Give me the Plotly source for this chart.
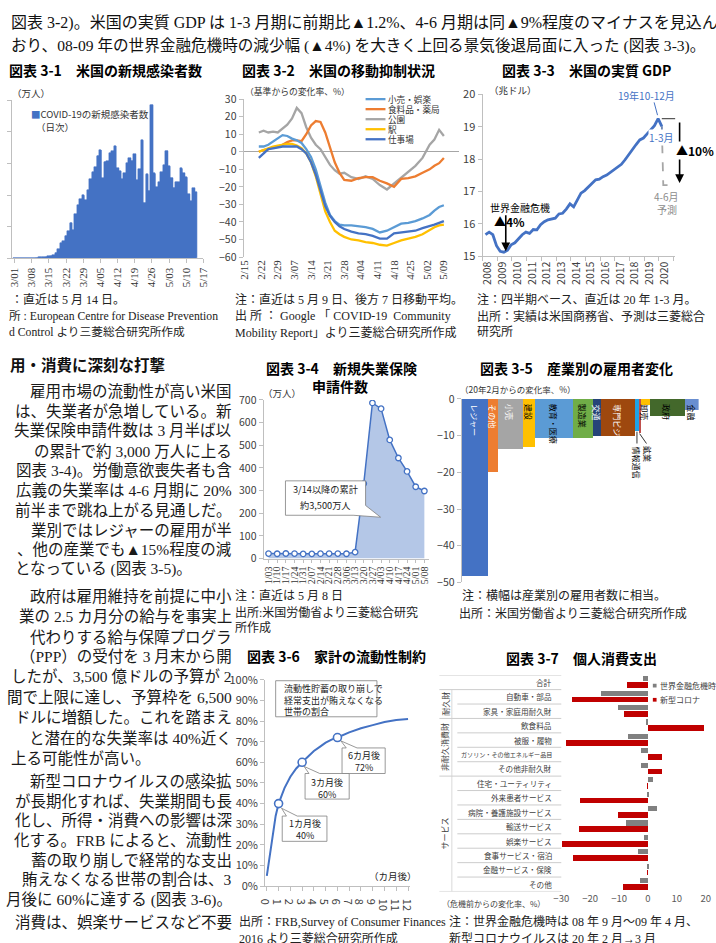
import plotly.graph_objects as go

W, H = 716, 943
SANS = "Noto Sans CJK JP, sans-serif"
SERIF = "Liberation Serif, Noto Sans CJK JP, serif"

# ================= DATA =================
# Chart 3-1: US daily new COVID-19 cases (10k persons), 3/01 .. 5/14
covid_dates = (["3/%02d" % d for d in range(1, 32)]
               + ["4/%02d" % d for d in range(1, 31)]
               + ["5/%02d" % d for d in range(1, 15)])
covid_new_cases = [0.0003, 0.002, 0.002, 0.003, 0.003, 0.007, 0.005, 0.014, 0.012, 0.020,
                   0.027, 0.029, 0.035, 0.051, 0.078, 0.082, 0.089, 0.177, 0.299, 0.484,
                   0.537, 0.712, 0.846, 1.124, 0.879, 1.396, 1.680, 1.870, 1.998, 1.836,
                   2.160, 2.500, 2.710, 2.882, 3.243, 3.427, 2.540, 3.056, 3.061, 3.332,
                   3.390, 3.553, 2.839, 2.762, 2.502, 2.692, 3.015, 3.167, 3.083, 3.292,
                   2.460, 2.807, 3.729, 1.759, 2.654, 2.135, 4.853, 2.686, 2.254, 2.413,
                   2.733, 2.952, 3.404, 2.908, 2.550, 2.234, 2.398, 2.413, 2.837, 2.691,
                   2.561, 2.026, 1.812, 2.205, 2.078]
covid_ticktext = ["3/01", "3/08", "3/15", "3/22", "3/29", "4/05", "4/12", "4/19", "4/26", "5/03", "5/10", "5/17"]

# Chart 3-2: mobility (% change from baseline, 7-day MA)
mob_dates = ["2020-02-21", "2020-02-23", "2020-02-25", "2020-02-27", "2020-02-29", "2020-03-02",
             "2020-03-04", "2020-03-06", "2020-03-08", "2020-03-10", "2020-03-12", "2020-03-14",
             "2020-03-16", "2020-03-18", "2020-03-20", "2020-03-22", "2020-03-24", "2020-03-26",
             "2020-03-28", "2020-03-31", "2020-04-03", "2020-04-06", "2020-04-09", "2020-04-12",
             "2020-04-15", "2020-04-18", "2020-04-21", "2020-04-24", "2020-04-27", "2020-04-30",
             "2020-05-03", "2020-05-05", "2020-05-07", "2020-05-09"]
mob_retail = [3, 3, 4, 6, 8, 9.5, 9, 7.5, 6.5, 5, 1.5, -3, -10, -20, -29, -36, -39.5, -41.5, -42, -42,
              -42.5, -43, -44, -46, -45, -43, -41, -40.5, -39.5, -38, -36, -33.5, -31.5, -30.5]
mob_grocery = [0, 1, 1.5, 2.5, 3, 4, 5.5, 6.5, 6.5, 6, 10, 15, 17.5, 17, 11, 2, -6, -12, -16, -16.5,
               -15, -14.5, -14.5, -16.5, -18, -20, -15.5, -15, -14, -12, -10, -8, -6.5, -3.5]
mob_park = [11, 12, 11, 11.5, 11, 13, 15.5, 19, 25, 22, 14, 8, 4, 1.5, -3, -7.5, -10.5, -12.5, -12,
            -14.5, -15.5, -14, -15.5, -19, -21.5, -18, -14.5, -11.5, -8, -3.5, 4, 7, 12.5, 9]
mob_station = [0, 1, 2, 3, 3.5, 4, 4.5, 4.5, 3.5, 2, -1, -6, -14, -24, -34, -40, -45, -47, -48.5, -50,
               -50.5, -51.5, -52, -53, -53.5, -52, -50.5, -49.5, -48.5, -47, -44.5, -43, -42, -41.5]
mob_work = [-3.5, -1, 1.5, 2, 2.5, 3, 3, 3, 3, 1.5, -1, -6, -13, -22, -31, -36.5, -40, -42.5, -44, -45.5,
            -46.5, -47, -48, -49.5, -49.5, -46.5, -46, -45.5, -45, -43.5, -42.5, -41.5, -40.5, -39.5]
mob_names = ["小売・娯楽", "食料品・薬局", "公園", "駅", "仕事場"]
mob_colors = ["#5B9BD5", "#ED7D31", "#A5A5A5", "#FFC000", "#4472C4"]
mob_ticks = ["2020-02-15", "2020-02-22", "2020-02-29", "2020-03-07", "2020-03-14", "2020-03-21", "2020-03-28",
             "2020-04-04", "2020-04-11", "2020-04-18", "2020-04-25", "2020-05-02", "2020-05-09"]
mob_ticktext = ["2/15", "2/22", "2/29", "3/07", "3/14", "3/21", "3/28", "4/04", "4/11", "4/18", "4/25", "5/02", "5/09"]

# Chart 3-3: US real GDP (trillion $), quarterly 2008Q1-2020Q1
gdp_values = [15.67, 15.75, 15.67, 15.33, 15.16, 15.13, 15.19, 15.36, 15.42, 15.56, 15.67, 15.75,
              15.71, 15.83, 15.82, 15.98, 16.07, 16.13, 16.15, 16.18, 16.31, 16.33, 16.46, 16.62,
              16.53, 16.74, 16.95, 17.03, 17.15, 17.26, 17.36, 17.38, 17.46, 17.51, 17.59, 17.66,
              17.74, 17.84, 17.98, 18.15, 18.29, 18.45, 18.59, 18.65, 18.78, 18.90, 19.03, 19.25,
              19.01]
gdp_forecast_q2 = 17.2
gdp_years = ["2008", "2009", "2010", "2011", "2012", "2013", "2014", "2015", "2016", "2017", "2018", "2019", "2020"]

# Chart 3-4: initial jobless claims (10k persons)
claims_weeks = ["1/03", "1/10", "1/17", "1/24", "1/31", "2/07", "2/14", "2/21", "2/28", "3/06", "3/13",
                "3/20", "3/27", "4/03", "4/10", "4/17", "4/24", "5/01", "5/08"]
claims_values = [22.0, 21.1, 22.1, 21.7, 20.2, 20.5, 21.4, 21.9, 21.7, 21.1, 28.2,
                 330.7, 686.7, 661.5, 523.7, 443.8, 384.6, 316.9, 298.1]

# Chart 3-5: employment change by industry (width = employment)
ind_names = ["レジャー", "その他", "小売", "建設", "教育・医療", "製造業", "交通", "専門ビジネス",
             "情報通信", "鉱業", "卸売", "政府", "金融"]
ind_employment = [16.9, 6.4, 15.6, 7.6, 24.5, 12.8, 5.5, 21.7, 2.6, 0.8, 5.9, 22.7, 8.8]
ind_change = [-48.2, -19.9, -13.6, -13.1, -10.7, -10.5, -10.1, -10.1, -8.7, -9.2, -1.6, -4.5, -2.9]
ind_colors = ["#4472C4", "#ED7D31", "#A5A5A5", "#FFC000", "#5B9BD5", "#70AD47", "#264478", "#9E480E",
              "#1FA2E6", "#C0504D", "#FFC000", "#43682B", "#698ED0"]
ind_label_colors = ["white", "white", "white", "black", "black", "black", "white", "white",
                    None, None, "black", "black", "black"]

# Chart 3-6: households unable to cover expenses
liq_months = [0, 0.1, 0.25, 0.5, 0.75, 1, 1.5, 2, 2.5, 3, 3.5, 4, 4.5, 5, 5.5, 6, 7, 8, 9, 10, 11, 12]
liq_share = [5, 9, 16, 26, 34, 40, 47.5, 53, 57, 60, 63, 65.5, 67.5, 69.5, 71, 72, 74.5, 76.5, 78, 79.5, 80.5, 81]
liq_mark_months = [1, 3, 6]
liq_mark_share = [40, 60, 72]

# Chart 3-7: personal consumption expenditure
pce_items = ["合計", "自動車・部品", "家具・家庭用耐久財", "飲食料品", "被服・履物",
             "ガソリン・その他エネルギー品目", "その他非耐久財", "住宅・ユーティリティ", "外来患者サービス",
             "病院・養護施設サービス", "輸送サービス", "娯楽サービス", "食事サービス・宿泊", "金融サービス・保険", "その他"]
pce_gfc = [-1.7, -16.0, -10.2, -0.7, -6.9, -2.4, -2.3, 1.9, 0.6, 3.1, -7.5, -1.2, -3.4, 0.2, -2.5]
pce_covid = [-7.1, -26.1, -8.1, 19.5, -28.3, 4.9, 5.1, 0.1, -23.3, -10.2, -23.8, -29.8, -25.8, -0.2, -8.6]
pce_groups = [("耐久財", 1, 2), ("非耐久消費財", 3, 6), ("サービス", 7, 14)]

# Body text
top_lines = ["図表 3-2)。米国の実質 GDP は 1-3 月期に前期比▲1.2%、4-6 月期は同▲9%程度のマイナスを見込ん",
             "おり、08-09 年の世界金融危機時の減少幅 (▲4%) を大きく上回る景気後退局面に入った (図表 3-3)。"]
body_lines = [
    (389, "雇用市場の流動性が高い米国", "r"), (409, "は、失業者が急増している。新", "r"),
    (429, "失業保険申請件数は 3 月半ば以", "r"), (450, "の累計で約 3,000 万人に上る", "r"),
    (470, "図表 3-4)。労働意欲喪失者も含", "r"), (490, "広義の失業率は 4-6 月期に 20%", "r"),
    (510, "前半まで跳ね上がる見通しだ。", "r"), (530, "業別ではレジャーの雇用が半", "r"),
    (550, "、他の産業でも▲15%程度の減", "r"), (570, " となっている (図表 3-5)。", "l"),
    (598, "政府は雇用維持を前提に中小", "r"), (618, "業の 2.5 カ月分の給与を事実上", "r"),
    (639, "代わりする給与保障プログラ", "r"), (659, "（PPP）の受付を 3 月末から開", "r"),
    (679, "したが、3,500 億ドルの予算が 2", "r"), (700, "間で上限に達し、予算枠を 6,500", "r"),
    (721, "ドルに増額した。これを踏まえ", "r"), (742, "と潜在的な失業率は 40%近く", "r"),
    (762, "上る可能性が高い。", "l"), (786, "新型コロナウイルスの感染拡", "r"),
    (806, "が長期化すれば、失業期間も長", "r"), (826, "化し、所得・消費への影響は深", "r"),
    (846, "化する。FRB によると、流動性", "r"), (866, "蓄の取り崩しで経常的な支出", "r"),
    (886, "賄えなくなる世帯の割合は、3", "r"), (906, "月後に 60%に達する (図表 3-6)。", "r"),
    (929, "消費は、娯楽サービスなど不要", "r"),
]

# ================= HELPERS =================
annotations, shapes = [], []


def px(x):
    return x / W


def py(y):
    return 1 - y / H


def dx(a, b):
    return [a / W, b / W]


def dy(top, bottom):
    return [1 - bottom / H, 1 - top / H]


def T(x, y, s, size=12, color="#000", family=SANS, anchor="left", angle=0, weight="normal",
      yanchor="middle", xref="paper", yref="paper", bg=None):
    d = dict(x=px(x) if xref == "paper" else x, y=py(y) if yref == "paper" else y,
             xref=xref, yref=yref, text=s, showarrow=False, xanchor=anchor, yanchor=yanchor,
             textangle=angle, borderpad=0,
             font=dict(family=family, size=size, color=color, weight=weight))
    if bg:
        d["bgcolor"] = bg
    annotations.append(d)


def Lp(x0, y0, x1, y1, color="#BFBFBF", width=1, dash="solid"):
    shapes.append(dict(type="line", xref="paper", yref="paper", x0=px(x0), y0=py(y0), x1=px(x1), y1=py(y1),
                       line=dict(color=color, width=width, dash=dash), layer="above"))


def path(points, color="#7F7F7F", fill="white", width=0.8):
    p = "M " + " L ".join(f"{px(x):.5f},{py(y):.5f}" for x, y in points) + " Z"
    shapes.append(dict(type="path", xref="paper", yref="paper", path=p, fillcolor=fill,
                       line=dict(color=color, width=width), layer="above"))


def arrow(x, y_tail, y_tip, width=1.5):
    annotations.append(dict(x=px(x), y=py(y_tip), ax=0, ay=y_tail - y_tip, xref="paper", yref="paper",
                            axref="pixel", ayref="pixel", text="", showarrow=True, arrowhead=2,
                            arrowsize=1.1, arrowwidth=width, arrowcolor="#000"))


AXL = "#BFBFBF"
TCK = "#404040"

fig = go.Figure()

# ================= TOP / BODY TEXT =================
T(2, 14, top_lines[0], size=16, family=SERIF, color="#111")
T(2, 38, top_lines[1], size=15.6, family=SERIF, color="#111")
T(1, 361, "用・消費に深刻な打撃", size=15.5, weight="bold", color="#111")
for y, s, a in body_lines:
    if a == "r":
        T(229, y, s, size=15.5, family=SERIF, anchor="right", color="#1a1a1a")
    else:
        T(2, y, s, size=15.5, family=SERIF, anchor="left", color="#1a1a1a")

# ================= Chart 3-1 =================
covid_day = list(range(len(covid_new_cases)))          # day index from 3/01
covid_tickvals = [7 * k for k in range(len(covid_ticktext))]
# step fill underneath the daily bars so that adjacent bars read as one solid block
fig.add_trace(go.Scatter(x=covid_day, y=covid_new_cases, mode="lines", line=dict(shape="hvh", width=0,
                         color="#4472C4"), fill="tozeroy", fillcolor="#4472C4", hoverinfo="skip",
                         xaxis="x", yaxis="y", showlegend=False))
fig.add_trace(go.Bar(x=covid_day, y=covid_new_cases, width=1.0,
                     marker=dict(color="#4472C4", line=dict(width=0.6, color="#4472C4")),
                     hovertext=covid_dates, xaxis="x", yaxis="y", showlegend=False))
T(0, 62.5, "図表 3-1　米国の新規感染者数", size=14, weight="bold")
T(3, 85, "（万人）", size=9.5, color="#333")
T(22, 106.7, "<span style='color:#4472C4'>■</span>COVID-19の新規感染者数", size=9.5, color="#333")
T(28, 120.5, "（日次）", size=9.5, color="#333")
T(2, 296, "：直近は 5 月 14 日。", size=12, family=SERIF, color="#222")
T(0, 312.5, "所 : European Centre for Disease Prevention", size=11.7, family=SERIF, color="#222")
T(0, 329, "d Control より三菱総合研究所作成", size=11.7, family=SERIF, color="#222")

# ================= Chart 3-2 =================
mob_series = [mob_retail, mob_grocery, mob_park, mob_station, mob_work]
for idx in [2, 1, 0, 3, 4]:
    fig.add_trace(go.Scatter(x=mob_dates, y=mob_series[idx], mode="lines",
                             line=dict(color=mob_colors[idx], width=2.3), xaxis="x2", yaxis="y2",
                             showlegend=False))
T(238, 62.5, "図表 3-2　米国の移動抑制状況", size=14, weight="bold")
T(241, 84.3, "（基準からの変化率、%）", size=8.8, color="#333")
for i, (nm, col) in enumerate(zip(mob_names, mob_colors)):
    yy = 91.7 + i * 10.2
    Lp(364.7, yy, 385, yy, color=col, width=2.3)
    T(386.5, yy, nm, size=8.6, color="#333")
T(231, 296, "注：直近は 5 月 9 日、後方 7 日移動平均。", size=12, family=SERIF, color="#222")
T(231, 312.5, "出 所 ： Google 「 COVID-19  Community", size=12, family=SERIF, color="#222")
T(231, 329, "Mobility Report」より三菱総合研究所作成", size=12, family=SERIF, color="#222")

# ================= Chart 3-3 =================
X3_END = 52.5
gdp_x = [i + 0.8 for i in range(len(gdp_values))]
fig.add_trace(go.Scatter(x=gdp_x, y=gdp_values, mode="lines", line=dict(color="#4472C4", width=2.8),
                         xaxis="x3", yaxis="y3", showlegend=False))
fig.add_trace(go.Scatter(x=[gdp_x[-1], gdp_x[-1] + 0.4, X3_END],
                         y=[gdp_values[-1], gdp_forecast_q2, gdp_forecast_q2], mode="lines",
                         line=dict(color="#A6A6A6", width=1.8, dash="dash"),
                         xaxis="x3", yaxis="y3", showlegend=False))
shapes.append(dict(type="line", xref="x3", yref="y3", x0=gdp_x[-1], x1=X3_END, y0=max(gdp_values),
                   y1=max(gdp_values), line=dict(color="#595959", width=1.2)))
T(503, 62, "図表 3-3　米国の実質 GDP", size=14, weight="bold")
T(490, 82, "（兆ドル）", size=9.5, color="#333")
T(651.7, 88.3, "19年10-12月", size=10, color="#4472C4", anchor="center")
Lp(659, 95, 662.5, 108, color="#4472C4", width=1)
T(666.7, 131, "1-3月", size=10, color="#4472C4", anchor="center", bg="white")
Lp(667, 124, 667, 119, color="#4472C4", width=1)
arrow(685, 115, 177, width=1.6)
T(680, 144.3, "▲10%", size=12, weight="bold", bg="white")
T(672, 191, "4-6月", size=10, color="#8C8C8C", anchor="center")
T(672, 204, "予測", size=10, color="#8C8C8C", anchor="center")
T(522.7, 201.7, "世界金融危機", size=10, anchor="center")
arrow(507.7, 209, 246.5, width=1.6)
T(511.7, 215.7, "▲4%", size=12, weight="bold", anchor="center")
T(477, 296, "注：四半期ベース、直近は 20 年 1-3 月。", size=12, family=SERIF, color="#222")
T(477, 312.5, "出所：実績は米国商務省、予測は三菱総合", size=12, family=SERIF, color="#222")
T(477, 329, "研究所", size=12, family=SERIF, color="#222")

# ================= Chart 3-4 =================
fig.add_trace(go.Scatter(x=list(range(len(claims_values))), y=claims_values, mode="lines+markers",
                         fill="tozeroy", fillcolor="#B4C7E7",
                         line=dict(color="#4472C4", width=1.5),
                         marker=dict(symbol="circle", size=5.5, color="white",
                                     line=dict(color="#4472C4", width=1.3)),
                         xaxis="x4", yaxis="y4", showlegend=False))
T(339.7, 365, "図表 3-4　新規失業保険", size=14, weight="bold", anchor="center")
T(339, 384, "申請件数", size=14, weight="bold", anchor="center")
T(259, 391, "（万人）", size=9.5, color="#333")
path([(283, 480), (364.7, 480), (364.7, 505), (380, 517), (352, 515), (283, 515)])
T(324, 488.5, "3/14以降の累計", size=9.2, anchor="center", color="#222")
T(324, 504.5, "約3,500万人", size=9.2, anchor="center", color="#222")
T(230, 597, "注：直近は 5 月 8 日", size=12, family=SERIF, color="#222")
T(230, 614, "出所:米国労働省より三菱総合研究", size=12, family=SERIF, color="#222")
T(230, 630, "所作成", size=12, family=SERIF, color="#222")

# ================= Chart 3-5 =================
X5_PX0, X5_PX1 = 462.7, 704.4
ind_centers = []
acc = 0
for w in ind_employment:
    ind_centers.append(acc + w / 2)
    acc += w
X5_END = acc


def x5_px(v):
    return X5_PX0 + v * (X5_PX1 - X5_PX0) / X5_END


fig.add_trace(go.Bar(x=ind_centers, y=ind_change, width=ind_employment,
                     marker=dict(color=ind_colors, line=dict(width=0)),
                     xaxis="x5", yaxis="y5", showlegend=False))
for c, nm, lc in zip(ind_centers, ind_names, ind_label_colors):
    if lc is None:
        continue
    annotations.append(dict(x=px(x5_px(c)), y=py(400), xref="paper", yref="paper", text=nm, showarrow=False,
                            textangle=90, xanchor="center", yanchor="top",
                            font=dict(family=SANS, size=8, color=lc)))
i_info = ind_names.index("情報通信")
i_mine = ind_names.index("鉱業")
info_px = x5_px(ind_centers[i_info])
mine_px = x5_px(ind_centers[i_mine])
annotations.append(dict(x=px(info_px), y=py(443), xref="paper", yref="paper", text="情報通信",
                        showarrow=False, textangle=90, xanchor="center", yanchor="top",
                        font=dict(family=SANS, size=8, color="#000")))
annotations.append(dict(x=px(mine_px + 8), y=py(443), xref="paper", yref="paper", text="鉱業",
                        showarrow=False, textangle=90, xanchor="center", yanchor="top",
                        font=dict(family=SANS, size=8, color="#000")))
Lp(info_px, 430, info_px, 442, color="#000", width=0.8)
Lp(mine_px, 432, mine_px + 7, 442, color="#000", width=0.8)
T(480, 365, "図表 3-5　産業別の雇用者変化", size=14, weight="bold")
T(460, 386.7, "（20年2月からの変化率、%）", size=8.5, color="#333")
T(462, 597, "注：横幅は産業別の雇用者数に相当。", size=12, family=SERIF, color="#222")
T(459, 615, "出所：米国労働省より三菱総合研究所作成", size=12, family=SERIF, color="#222")

# ================= Chart 3-6 =================
fig.add_trace(go.Scatter(x=liq_months, y=liq_share, mode="lines", line=dict(color="#4472C4", width=2),
                         xaxis="x6", yaxis="y6", showlegend=False))
fig.add_trace(go.Scatter(x=liq_mark_months, y=liq_mark_share, mode="markers",
                         marker=dict(symbol="circle", size=8, color="white", line=dict(color="#4472C4", width=1.6)),
                         xaxis="x6", yaxis="y6", showlegend=False))
T(243, 658.5, "図表 3-6　家計の流動性制約", size=14, weight="bold")
path([(273, 683.3), (376.3, 683.3), (376.3, 720), (273, 720)])
T(280, 691.7, "流動性貯蓄の取り崩しで", size=9, color="#222")
T(280, 703.3, "経常支出が賄えなくなる", size=9, color="#222")
T(280, 715, "世帯の割合", size=9, color="#222")
path([(340.7, 751.7), (345, 751.7), (339.5, 744.5), (356, 751.7), (384.7, 751.7), (384.7, 777.7), (340.7, 777.7)])
T(362.7, 759, "6カ月後", size=9, anchor="center", color="#222")
T(362.7, 771.2, "72%", size=9, anchor="center", color="#222")
path([(303, 777.7), (307, 777.7), (302, 770.5), (318, 777.7), (348, 777.7), (348, 803.7), (303, 803.7)])
T(325.5, 786.5, "3カ月後", size=9, anchor="center", color="#222")
T(325.5, 798.7, "60%", size=9, anchor="center", color="#222")
path([(279.7, 821), (284, 821), (279, 813), (295, 821), (325.3, 821), (325.3, 846.7), (279.7, 846.7)])
T(302.5, 828.5, "1カ月後", size=9, anchor="center", color="#222")
T(302.5, 840.7, "40%", size=9, anchor="center", color="#222")
T(418, 882.3, "（カ月後）", size=9.5, anchor="right", color="#222")
T(235, 928.5, "出所：FRB,Survey of Consumer Finances", size=12, family=SERIF, color="#222")
T(235, 946, "2016 より三菱総合研究所作成", size=12, family=SERIF, color="#222")

# ================= Chart 3-7 =================
fig.add_trace(go.Bar(y=pce_items, x=pce_gfc, orientation="h", marker=dict(color="#808080", line=dict(width=0)),
                     width=0.36, offset=-0.42, xaxis="x7", yaxis="y7", showlegend=False))
fig.add_trace(go.Bar(y=pce_items, x=pce_covid, orientation="h", marker=dict(color="#C00000", line=dict(width=0)),
                     width=0.40, offset=0.0, xaxis="x7", yaxis="y7", showlegend=False))
T(506.7, 660, "図表 3-7　個人消費支出", size=14, weight="bold")
for k in range(len(pce_items) + 1):
    full = k in (0, 1, 3, 7, len(pce_items))
    shapes.append(dict(type="line", xref="paper", yref="y7", x0=px(440 if full else 458.3), x1=px(564.3),
                       y0=k - 0.5, y1=k - 0.5, line=dict(color="#BFBFBF", width=0.8)))
for name, a, b in pce_groups:
    shapes.append(dict(type="line", xref="paper", yref="y7", x0=px(452.7), x1=px(452.7),
                       y0=a - 0.5, y1=b + 0.5, line=dict(color="#D0D0D0", width=0.8)))
    annotations.append(dict(x=px(445.5), y=(a + b) / 2, xref="paper", yref="y7", text=name, showarrow=False,
                            textangle=-90, xanchor="center", yanchor="middle",
                            font=dict(family=SANS, size=8, color="#404040")))
for item in pce_items:
    sz = 6.1 if len(item) > 12 else 7.6
    annotations.append(dict(x=px(556.7), y=item, xref="paper", yref="y7", text=item, showarrow=False,
                            xanchor="right", yanchor="middle",
                            font=dict(family=SANS, size=sz, color="#404040")))
shapes.append(dict(type="rect", xref="paper", yref="paper", x0=px(657.7), x1=px(661.5), y0=py(690.2),
                   y1=py(686.4), fillcolor="#808080", line=dict(width=0)))
shapes.append(dict(type="rect", xref="paper", yref="paper", x0=px(657.7), x1=px(661.5), y0=py(704.6),
                   y1=py(700.8), fillcolor="#C00000", line=dict(width=0)))
T(664, 688.3, "世界金融危機時", size=8, color="#404040")
T(664, 702.7, "新型コロナ", size=8, color="#404040")
T(442, 909.5, "（危機前からの変化率、%）", size=8, color="#404040")
T(449, 928.5, "注：世界金融危機時は 08 年 9 月～09 年 4 月、", size=12, family=SERIF, color="#222")
T(449, 946, "新型コロナウイルスは 20 年 2 月→3 月", size=12, family=SERIF, color="#222")

# ================= LAYOUT =================
base = dict(showgrid=False, zeroline=False, linecolor=AXL, tickcolor=AXL, ticklen=4,
            tickfont=dict(family=SANS, size=10.5, color=TCK))

fig.update_layout(
    width=W, height=H, autosize=False, margin=dict(l=0, r=0, t=0, b=0),
    paper_bgcolor="white", plot_bgcolor="rgba(0,0,0,0)",
    barmode="overlay", bargap=0, showlegend=False,
    xaxis=dict(base, domain=dx(4.3, 199.3), anchor="y", range=[-0.96, 77], tickmode="array",
               tickvals=covid_tickvals, ticktext=covid_ticktext, tickangle=-90, showline=True,
               ticks="outside", tickfont=dict(family=SERIF, size=11, color="#333")),
    yaxis=dict(base, domain=dy(92.7, 253.7), anchor="x", range=[0, 5], dtick=1, showline=True,
               ticks="outside", showticklabels=False),
    xaxis2=dict(base, type="date", domain=dx(240.3, 459.7), anchor="y2",
                range=["2020-02-14 14:10", "2020-05-15 06:00"], tickmode="array",
                tickvals=mob_ticks, ticktext=mob_ticktext, tickangle=-90, showline=False, ticks="",
                tickfont=dict(family=SERIF, size=11, color="#333")),
    yaxis2=dict(base, domain=dy(91.7, 252.3), anchor="x2", range=[-60, 30], dtick=10, showline=True,
                ticks="outside", zeroline=True, zerolinecolor="#A6A6A6", zerolinewidth=1),
    xaxis3=dict(base, domain=dx(484, 680.7), anchor="y3", range=[0, X3_END], tickmode="array",
                tickvals=[1.5 + 4 * k for k in range(len(gdp_years))], ticktext=gdp_years, tickangle=-90,
                showline=True, ticks="", tickfont=dict(family=SANS, size=10.5, color=TCK),
                minor=dict(tickmode="array", tickvals=[4 * k for k in range(14)], ticks="outside",
                           ticklen=4, tickcolor=AXL)),
    yaxis3=dict(base, domain=dy(86.7, 251.7), anchor="x3", range=[15, 20], dtick=1, showline=True,
                ticks="outside", tickfont=dict(family=SANS, size=11, color=TCK)),
    xaxis4=dict(base, domain=dx(260.7, 429.7), anchor="y4", range=[-0.57, len(claims_values) - 0.43],
                tickmode="array", tickvals=list(range(len(claims_weeks))), ticktext=claims_weeks,
                tickangle=-90, showline=True, ticks="outside", ticklen=3,
                tickfont=dict(family=SERIF, size=10, color="#333")),
    yaxis4=dict(base, domain=dy(397.7, 559), anchor="x4", range=[0, 700], dtick=100, showline=True,
                ticks="outside"),
    xaxis5=dict(base, domain=dx(X5_PX0, X5_PX1), anchor="y5", range=[0, X5_END], showticklabels=False,
                showline=False, ticks=""),
    yaxis5=dict(base, domain=dy(396.7, 583.3), anchor="x5", range=[-50, 0], dtick=10, showline=True,
                ticks="outside"),
    xaxis6=dict(base, domain=dx(262.3, 409.7), anchor="y6", range=[-0.14, 12.14], dtick=1, showline=True,
                ticks="outside", tickfont=dict(family=SANS, size=11, color=TCK)),
    yaxis6=dict(base, domain=dy(682.3, 892.3), anchor="x6", range=[0, 100], dtick=10, ticksuffix="%",
                showline=True, ticks="outside", tickfont=dict(family=SANS, size=11, color=TCK)),
    xaxis7=dict(base, domain=dx(564.3, 711.6), anchor="y7", range=[-30, 20], tickmode="array",
                tickvals=[-30, -20, -10, 0, 10, 20], showline=False, ticks="",
                tickfont=dict(family=SANS, size=9.5, color="#595959")),
    yaxis7=dict(base, domain=dy(677.7, 897.7), anchor="x7", type="category", categoryorder="array",
                categoryarray=pce_items, range=[len(pce_items) - 0.5, -0.5], showticklabels=False,
                showline=False, ticks=""),
    annotations=annotations,
    shapes=shapes,
)

fig.write_html("out.html")
